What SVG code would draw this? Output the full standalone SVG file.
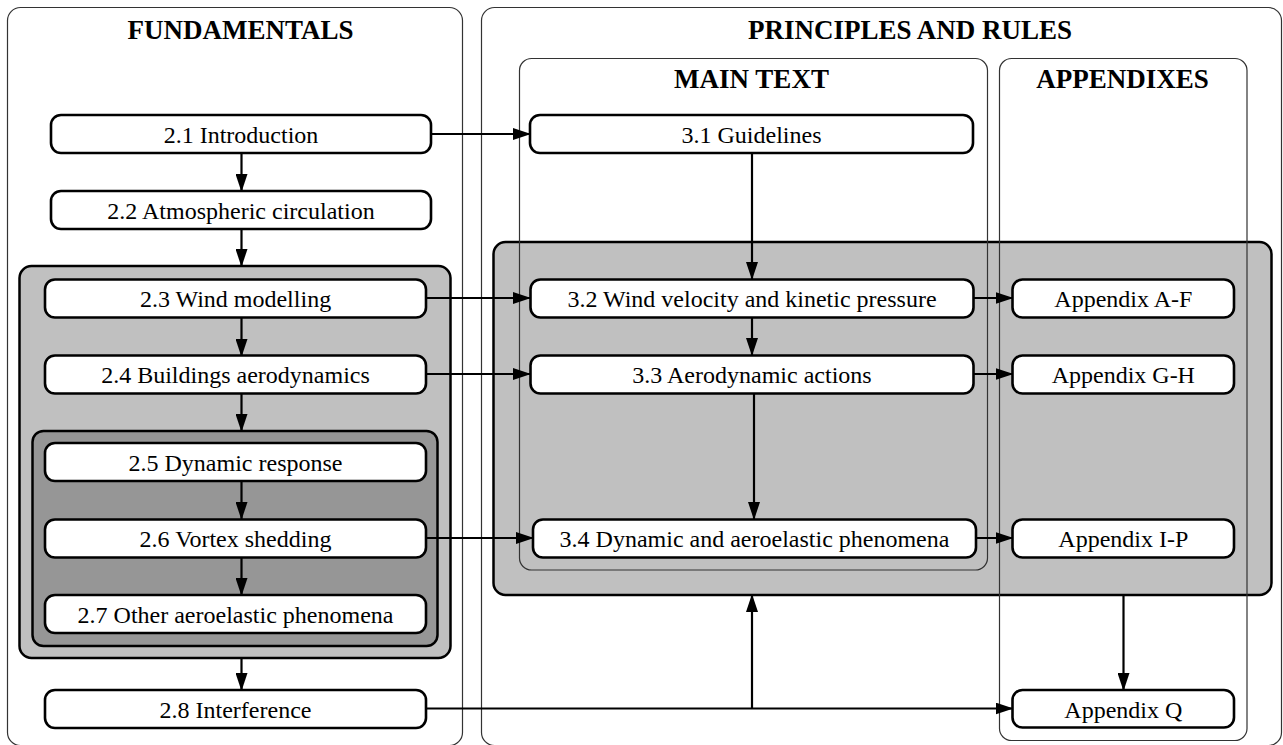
<svg xmlns="http://www.w3.org/2000/svg" width="1283" height="745" viewBox="0 0 1283 745">
<defs>
<marker id="ah" markerWidth="18" markerHeight="12" refX="17" refY="6" orient="auto" markerUnits="userSpaceOnUse">
<path d="M0,0 L18,6 L0,12 Z" fill="#000"/>
</marker>
<style>
.panel{fill:none;stroke:#333;stroke-width:1.2}
.grp1{fill:#c0c0c0;stroke:#000;stroke-width:2.5}
.grp2{fill:#969696;stroke:#000;stroke-width:2.5}
.node rect{fill:#fff;stroke:#000;stroke-width:2.6}
.node text{font-family:"Liberation Serif","Times New Roman",serif;font-size:24px;text-anchor:middle;fill:#000}
.title{font-family:"Liberation Serif","Times New Roman",serif;font-size:27px;font-weight:bold;text-anchor:middle;fill:#000}
.conn{fill:none;stroke:#000;stroke-width:2.2}
.arr{marker-end:url(#ah)}
</style>
</defs>
<rect x="0" y="0" width="1283" height="745" fill="#fff"/>

<!-- group backgrounds -->
<rect id="grp-left-outer" class="grp1" x="19.5" y="266" width="431" height="392" rx="12"/>
<rect id="grp-left-inner" class="grp2" x="32.5" y="431" width="405" height="215" rx="11"/>
<rect id="grp-right" class="grp1" x="493.5" y="242" width="778" height="353" rx="12"/>

<!-- panels -->
<g id="panel-fundamentals">
<rect class="panel" x="7.5" y="7.5" width="455" height="738" rx="13"/>
<text class="title" x="240.5" y="39">FUNDAMENTALS</text>
</g>
<g id="panel-principles">
<rect class="panel" x="481.5" y="7.5" width="800" height="738" rx="13"/>
<text class="title" x="910" y="39">PRINCIPLES AND RULES</text>
</g>
<g id="panel-maintext">
<rect class="panel" x="519.5" y="58.5" width="468" height="511.5" rx="12"/>
<text class="title" x="751.5" y="88">MAIN TEXT</text>
</g>
<g id="panel-appendixes">
<rect class="panel" x="999.5" y="58.5" width="247.5" height="682" rx="12"/>
<text class="title" x="1122.5" y="88">APPENDIXES</text>
</g>

<!-- connectors -->
<g id="connectors">
<line class="conn arr" x1="241.5" y1="153" x2="241.5" y2="191"/>
<line class="conn arr" x1="241.5" y1="229" x2="241.5" y2="266"/>
<line class="conn arr" x1="241.5" y1="318" x2="241.5" y2="356"/>
<line class="conn arr" x1="241.5" y1="393" x2="241.5" y2="431"/>
<line class="conn arr" x1="241.5" y1="481" x2="241.5" y2="519"/>
<line class="conn arr" x1="241.5" y1="557" x2="241.5" y2="595"/>
<line class="conn arr" x1="241.5" y1="658" x2="241.5" y2="690"/>
<line class="conn arr" x1="431" y1="134" x2="530" y2="134"/>
<line class="conn arr" x1="426" y1="298" x2="530" y2="298"/>
<line class="conn arr" x1="426" y1="374" x2="530" y2="374"/>
<line class="conn arr" x1="426" y1="538" x2="533" y2="538"/>
<line class="conn arr" x1="426" y1="708.5" x2="1012.5" y2="708.5"/>
<line class="conn arr" x1="752" y1="708.5" x2="752" y2="595"/>
<line class="conn arr" x1="752" y1="153" x2="752" y2="279"/>
<line class="conn arr" x1="752" y1="317" x2="752" y2="355"/>
<line class="conn arr" x1="754" y1="393" x2="754" y2="519"/>
<line class="conn arr" x1="973" y1="298" x2="1012.5" y2="298"/>
<line class="conn arr" x1="973" y1="374" x2="1012.5" y2="374"/>
<line class="conn arr" x1="976" y1="538" x2="1012.5" y2="538"/>
<line class="conn arr" x1="1123.5" y1="595" x2="1123.5" y2="690"/>
</g>

<!-- nodes -->
<g id="n21" class="node"><rect x="51" y="115" width="380" height="38" rx="10"/><text x="241" y="142.5">2.1 Introduction</text></g>
<g id="n22" class="node"><rect x="51" y="191" width="380" height="38" rx="10"/><text x="241" y="218.5">2.2 Atmospheric circulation</text></g>
<g id="n23" class="node"><rect x="45" y="279.5" width="381" height="38" rx="10"/><text x="235.5" y="307">2.3 Wind modelling</text></g>
<g id="n24" class="node"><rect x="45" y="355.5" width="381" height="38" rx="10"/><text x="235.5" y="383">2.4 Buildings aerodynamics</text></g>
<g id="n25" class="node"><rect x="45" y="443" width="381" height="38" rx="10"/><text x="235.5" y="470.5">2.5 Dynamic response</text></g>
<g id="n26" class="node"><rect x="45" y="519.5" width="381" height="38" rx="10"/><text x="235.5" y="547">2.6 Vortex shedding</text></g>
<g id="n27" class="node"><rect x="45" y="595" width="381" height="38" rx="10"/><text x="235.5" y="622.5">2.7 Other aeroelastic phenomena</text></g>
<g id="n28" class="node"><rect x="45" y="690" width="381" height="38" rx="10"/><text x="235.5" y="717.5">2.8 Interference</text></g>

<g id="n31" class="node"><rect x="530" y="115" width="443" height="38" rx="10"/><text x="751.5" y="142.5">3.1 Guidelines</text></g>
<g id="n32" class="node"><rect x="530.5" y="279.5" width="443" height="38" rx="10"/><text x="752" y="307">3.2 Wind velocity and kinetic pressure</text></g>
<g id="n33" class="node"><rect x="530.5" y="355.5" width="443" height="38" rx="10"/><text x="752" y="383">3.3 Aerodynamic actions</text></g>
<g id="n34" class="node"><rect x="533" y="519.5" width="443" height="38" rx="10"/><text x="754.5" y="547">3.4 Dynamic and aeroelastic phenomena</text></g>

<g id="nAF" class="node"><rect x="1012.5" y="279.5" width="221.5" height="38" rx="10"/><text x="1123.3" y="307">Appendix A-F</text></g>
<g id="nGH" class="node"><rect x="1012.5" y="355.5" width="221.5" height="38" rx="10"/><text x="1123.3" y="383">Appendix G-H</text></g>
<g id="nIP" class="node"><rect x="1012.5" y="519.5" width="221.5" height="38" rx="10"/><text x="1123.3" y="547">Appendix I-P</text></g>
<g id="nQ" class="node"><rect x="1012.5" y="690" width="221.5" height="37.5" rx="10"/><text x="1123.3" y="717.5">Appendix Q</text></g>
</svg>
